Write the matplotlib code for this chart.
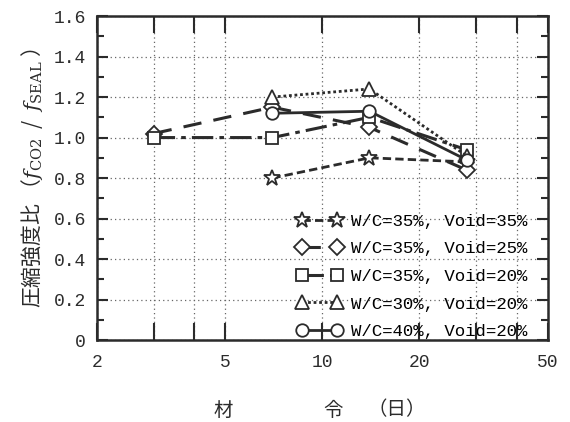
import numpy as np
import matplotlib
matplotlib.use("Agg")
import matplotlib.pyplot as plt
from matplotlib.ticker import FixedLocator, MultipleLocator, NullFormatter

# =============================================================================
# DATOS
# =============================================================================
edad_dias = [3, 7, 14, 28]

serie_labels = [
    "W/C=35%, Void=35%",
    "W/C=35%, Void=25%",
    "W/C=35%, Void=20%",
    "W/C=30%, Void=20%",
    "W/C=40%, Void=20%",
]

# None = sin dato a esa edad
vals_wc35_v35 = [None, 0.80, 0.90, 0.88]
vals_wc35_v25 = [1.02, 1.15, 1.05, 0.84]
vals_wc35_v20 = [1.00, 1.00, 1.10, 0.94]
vals_wc30_v20 = [None, 1.20, 1.24, 0.91]
vals_wc40_v20 = [None, 1.12, 1.13, 0.89]

xticks_vals   = [2, 3, 4, 5, 10, 20, 30, 40, 50]
xticks_labels = ["2", "", "", "5", "10", "20", "", "", "50"]
yticks_vals   = [0, 0.2, 0.4, 0.6, 0.8, 1.0, 1.2, 1.4, 1.6]
yticks_labels = ["0", "0.2", "0.4", "0.6", "0.8", "1.0", "1.2", "1.4", "1.6"]

# =============================================================================
# ESTILO
# =============================================================================
MONO = ["Liberation Mono", "Noto Sans CJK JP"]
CJK  = ["Noto Sans CJK JP", "DejaVu Sans"]
TINTA = "#2b2b2b"

plt.rcParams.update({
    "font.family": MONO,
    "mathtext.fontset": "dejavuserif",
})

estilos = [
    dict(marker="*", ls=(0, (3, 1.5)), lw=2.0, ms=12),
    dict(marker="D", ls=(0, (6, 4)),   lw=2.2, ms=8),
    dict(marker="s", ls=(0, (7, 2, 1.5, 2)), lw=2.2, ms=9),
    dict(marker="^", ls=(0, (1, 1)),   lw=2.0, ms=10),
    dict(marker="o", ls="-",           lw=2.0, ms=9),
]
series = [vals_wc35_v35, vals_wc35_v25, vals_wc35_v20, vals_wc30_v20, vals_wc40_v20]

# =============================================================================
# GRÁFICO
# =============================================================================
fig = plt.figure(figsize=(5.7, 4.22), dpi=100)
ax = fig.add_axes([0.170, 0.194, 0.791, 0.768])

for vals, lab, est in zip(series, serie_labels, estilos):
    xs = [x for x, v in zip(edad_dias, vals) if v is not None]
    ys = [v for v in vals if v is not None]
    ax.plot(xs, ys, color=TINTA, linestyle=est["ls"], linewidth=est["lw"],
            marker=est["marker"], markersize=est["ms"], markerfacecolor="white",
            markeredgecolor=TINTA, markeredgewidth=1.3, label=lab)

ax.set_xscale("log")
ax.set_xlim(2, 50)
ax.set_ylim(0, 1.6)

ax.xaxis.set_major_locator(FixedLocator(xticks_vals))
ax.set_xticklabels(xticks_labels)
ax.xaxis.set_minor_formatter(NullFormatter())
ax.xaxis.set_minor_locator(FixedLocator([]))
ax.set_yticks(yticks_vals)
ax.set_yticklabels(yticks_labels)
ax.yaxis.set_minor_locator(MultipleLocator(0.1))

ax.tick_params(which="both", direction="in", top=True, right=True,
               colors=TINTA, labelsize=13, width=1.5)
ax.tick_params(axis="x", which="major", length=12, pad=10)
ax.tick_params(axis="y", which="major", length=8, pad=8)
ax.tick_params(axis="y", which="minor", length=5)

for s in ax.spines.values():
    s.set_linewidth(1.8)
    s.set_color(TINTA)

ax.grid(True, which="major", linestyle=(0, (1, 2.5)), color="#666666", linewidth=0.9)

leg = ax.legend(loc="lower right", frameon=False, numpoints=2, handlelength=2.6,
                handletextpad=0.5, labelspacing=0.72, fontsize=12.5,
                bbox_to_anchor=(0.985, -0.04), borderaxespad=0.4)

ax.set_ylabel("圧縮強度比 （$f_{\\mathrm{CO2}}$  /  $f_{\\mathrm{SEAL}}$ ）",
              family=CJK, fontsize=15, color=TINTA, labelpad=6)

fig.text(223 / 570, 1 - 410 / 422, "材", family=CJK, fontsize=14,
         color=TINTA, ha="center", va="center")
fig.text(333 / 570, 1 - 410 / 422, "令", family=CJK, fontsize=14,
         color=TINTA, ha="center", va="center")
fig.text(397 / 570, 1 - 410 / 422, "（日）", family=CJK, fontsize=14,
         color=TINTA, ha="center", va="center")

fig.savefig("out.png", dpi=100)
